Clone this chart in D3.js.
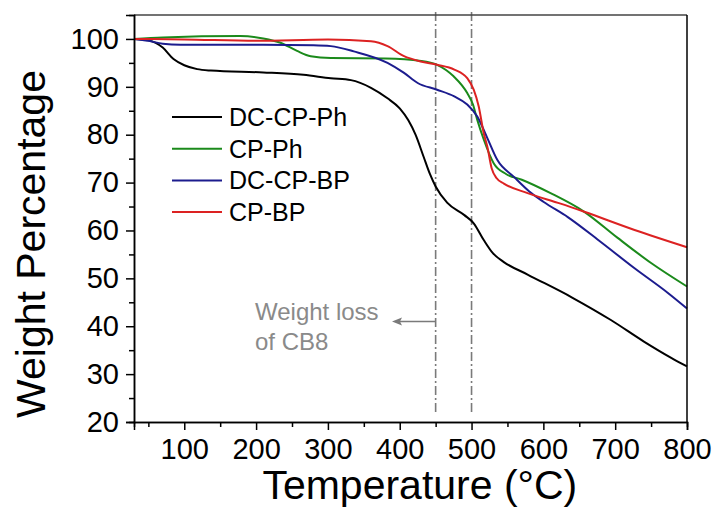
<!DOCTYPE html>
<html>
<head>
<meta charset="utf-8">
<script src="https://d3js.org/d3.v7.min.js"></script>
<style>
  body { margin: 0; background: #fff; }
  text { font-family: Arial, "Liberation Sans", sans-serif; }
</style>
</head>
<body>
<svg width="718" height="511"></svg>
<script>
// TGA curves: [temperature °C, weight %]
var dcCpPh = [[30,100],[50,99.7],[70,98.2],[85,95.8],[100,94.5],[118,93.7],[137,93.4],[210,93.0],[266,92.5],
  [304,91.8],[332,91.4],[360,89.8],[383,87.6],[400,85.5],[412,83],[422,80],[433,75.5],[442,71.8],[450,69.2],
  [466,65.8],[490,63.2],[503,61.5],[517,58.0],[530,55.2],[545,53.4],[578,50.8],[640,46.0],[694,41.3],
  [740,36.8],[778,33.4],[800,31.6]];
var cpPh = [[30,100],[70,100.3],[178,100.6],[210,100.1],[234,99.2],[257,97.5],[276,96.4],[304,96],[380,95.9],
  [430,95.4],[452,94.6],[475,92.2],[494,88.7],[502,86.3],[508,83.1],[517,79],[531,74],[548,71.8],[570,70.6],
  [610,67.8],[657,63.9],[703,58.5],[750,53.2],[800,48.3]];
var dcCpBp = [[30,100],[50,99.6],[70,99.0],[95,98.8],[210,98.8],[280,98.7],[304,98.5],[336,97.4],[383,95],
  [406,92.9],[425,90.8],[452,89.4],[476,88],[494,86.3],[508,83.8],[522,79.3],[536,74.7],[559,71.2],[580,68.2],
  [600,66],[634,62.8],[680,57.6],[727,52.1],[773,47.0],[800,43.7]];
var cpBp = [[30,100],[100,99.9],[200,99.6],[300,99.9],[360,99.5],[383,98.5],[406,96.4],[429,95.3],[452,94.6],
  [476,93.6],[494,91.8],[503,89.4],[510,85.9],[517,80.3],[522,77.5],[528,73],[535,70.9],[545,69.8],[578,67.8],
  [624,65.6],[657,63.9],[727,60.1],[800,56.5]];

var names = ["DC-CP-Ph", "CP-Ph", "DC-CP-BP", "CP-BP"];
var colors = ["#000000", "#1b8a1b", "#1c1c8e", "#dc2222"];
var xTicks = [100, 200, 300, 400, 500, 600, 700, 800];
var yTicks = [20, 30, 40, 50, 60, 70, 80, 90, 100];
var markers = [450, 500];

var series = [dcCpPh, cpPh, dcCpBp, cpBp];

var svg = d3.select("svg"),
    margin = {top: 15, right: 31, bottom: 89, left: 134},
    width = +svg.attr("width") - margin.left - margin.right,
    height = +svg.attr("height") - margin.top - margin.bottom;

var x = d3.scaleLinear().domain([30, 800]).range([0, width]),
    y = d3.scaleLinear().domain([20, 105]).range([height, 0]);

var g = svg.append("g").attr("transform", "translate(" + margin.left + "," + margin.top + ")");

// dash-dot reference lines
g.selectAll(".marker")
  .data(markers)
  .enter().append("line")
  .attr("x1", function(d) { return x(d); })
  .attr("x2", function(d) { return x(d); })
  .attr("y1", -3)
  .attr("y2", height - 8)
  .attr("stroke", "#7a7a7a")
  .attr("stroke-width", 1.6)
  .attr("stroke-dasharray", "9,3,2,3");

// curves
var line = d3.line()
  .x(function(d) { return x(d[0]); })
  .y(function(d) { return y(d[1]); })
  .curve(d3.curveMonotoneX);

g.selectAll(".curve")
  .data(series)
  .enter().append("path")
  .attr("fill", "none")
  .attr("stroke", function(d, i) { return colors[i]; })
  .attr("stroke-width", 2)
  .attr("d", line);

// frame
g.append("line").attr("x1", 0).attr("x2", width).attr("y1", 0).attr("y2", 0)
  .attr("stroke", "#444").attr("stroke-width", 1.5);
g.append("line").attr("x1", width).attr("x2", width).attr("y1", 0).attr("y2", height)
  .attr("stroke", "#000").attr("stroke-width", 1.5);

// axes
var xAxis = g.append("g")
  .attr("transform", "translate(0," + height + ")")
  .call(d3.axisBottom(x).tickValues(xTicks).tickSize(8).tickPadding(8).tickFormat(d3.format("d")));
var xMinor = g.append("g")
  .attr("transform", "translate(0," + height + ")")
  .call(d3.axisBottom(x).tickValues(d3.range(50, 800, 100)).tickSize(5).tickFormat(""));
var yAxis = g.append("g")
  .call(d3.axisLeft(y).tickValues(yTicks).tickSize(8).tickPadding(7).tickFormat(d3.format("d")));
var yMinor = g.append("g")
  .call(d3.axisLeft(y).tickValues(d3.range(25, 105, 10)).tickSize(5).tickFormat(""));

[xAxis, xMinor, yAxis, yMinor].forEach(function(a) {
  a.select(".domain").attr("stroke", "#000").attr("stroke-width", 1.5);
  a.selectAll(".tick line").attr("stroke", "#000").attr("stroke-width", 1.5);
  a.selectAll(".tick text").attr("fill", "#000").attr("font-size", "29px")
    .attr("font-family", "Arial, 'Liberation Sans', sans-serif");
});

// axis titles
svg.append("text")
  .attr("x", margin.left + x(428))
  .attr("y", 499)
  .attr("text-anchor", "middle")
  .attr("font-size", "41px")
  .text("Temperature (\u00b0C)");

svg.append("text")
  .attr("transform", "translate(45,244) rotate(-90)")
  .attr("text-anchor", "middle")
  .attr("font-size", "41px")
  .text("Weight Percentage");

// legend
var legend = svg.append("g").attr("transform", "translate(172,117)");
var rows = legend.selectAll(".row")
  .data(names)
  .enter().append("g")
  .attr("transform", function(d, i) { return "translate(0," + (i * 31.7) + ")"; });
rows.append("line")
  .attr("x1", 0).attr("x2", 50)
  .attr("stroke", function(d, i) { return colors[i]; })
  .attr("stroke-width", 2);
rows.append("text")
  .attr("x", 57)
  .attr("y", 9)
  .attr("font-size", "25px")
  .text(function(d) { return d; });

// annotation
var note = svg.append("g");
note.append("text").attr("x", 255).attr("y", 320).attr("font-size", "24px").attr("fill", "#8a8a8a").text("Weight loss");
note.append("text").attr("x", 255).attr("y", 350).attr("font-size", "24px").attr("fill", "#8a8a8a").text("of CB8");
note.append("line")
  .attr("x1", margin.left + x(450)).attr("x2", 400)
  .attr("y1", 321.5).attr("y2", 321.5)
  .attr("stroke", "#7a7a7a").attr("stroke-width", 1.5);
note.append("path")
  .attr("d", "M392,321.5 L402,317.5 L400,321.5 L402,325.5 Z")
  .attr("fill", "#7a7a7a");
</script>
</body>
</html>
